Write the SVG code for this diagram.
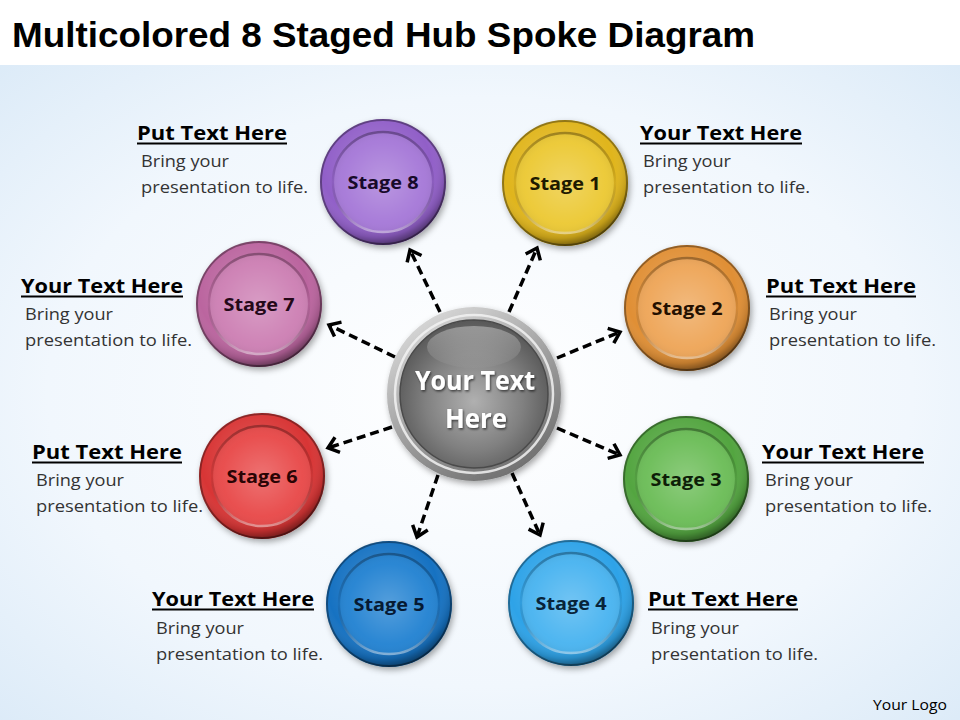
<svg xmlns="http://www.w3.org/2000/svg" width="960" height="720" viewBox="0 0 960 720">
<style>
.title{font-family:"Liberation Sans",Arial,sans-serif;font-weight:bold;font-size:35px;fill:#000}
.hd{font-family:"Open Sans","Liberation Sans",sans-serif;font-weight:bold;font-size:20px;fill:#000}
.ul{stroke:#000;stroke-width:2}
.bd{font-family:"Open Sans","Liberation Sans",sans-serif;font-size:17px;fill:#333}
.lbl{font-family:"Open Sans","Liberation Sans",sans-serif;font-weight:bold;font-size:18px;text-anchor:middle}
.hubt{font-family:"Open Sans","Liberation Sans",sans-serif;font-weight:bold;font-size:26px;fill:#fff;text-anchor:middle}
.logo{font-family:"Open Sans","Liberation Sans",sans-serif;font-size:14px;fill:#000}
.arrow{fill:none;stroke:#000;stroke-width:3.5;stroke-dasharray:9 5;marker-end:url(#ah)}
.osh{fill:url(#outerShade)}
.rim{fill:none;stroke:#000;stroke-opacity:0.35;stroke-width:2}
.groove{fill:none;stroke:url(#grooveG);stroke-width:2.5}
.ish{fill:url(#innerShade)}
</style>
<defs>
<radialGradient id="bg" cx="50%" cy="50%" r="75%">
<stop offset="0" stop-color="#ffffff"/>
<stop offset="0.6" stop-color="#f1f7fd"/>
<stop offset="1" stop-color="#d9e9f7"/>
</radialGradient>
<radialGradient id="outerShade" cx="45%" cy="38%" r="62%">
<stop offset="0" stop-color="#fff" stop-opacity="0.2"/>
<stop offset="0.7" stop-color="#fff" stop-opacity="0"/>
<stop offset="0.9" stop-color="#000" stop-opacity="0.15"/>
<stop offset="1" stop-color="#000" stop-opacity="0.45"/>
</radialGradient>
<radialGradient id="innerShade" cx="50%" cy="50%" r="55%">
<stop offset="0" stop-color="#fff" stop-opacity="0.22"/>
<stop offset="0.75" stop-color="#fff" stop-opacity="0.03"/>
<stop offset="1" stop-color="#000" stop-opacity="0.08"/>
</radialGradient>
<linearGradient id="grooveG" x1="0" y1="0" x2="0" y2="1">
<stop offset="0" stop-color="#000" stop-opacity="0.3"/>
<stop offset="0.5" stop-color="#000" stop-opacity="0.05"/>
<stop offset="1" stop-color="#fff" stop-opacity="0.45"/>
</linearGradient>
<linearGradient id="hubRim" x1="0.2" y1="0" x2="0.8" y2="1">
<stop offset="0" stop-color="#dcdcdc"/>
<stop offset="0.5" stop-color="#a0a0a0"/>
<stop offset="1" stop-color="#6a6a6a"/>
</linearGradient>
<radialGradient id="hubBody" cx="50%" cy="55%" r="55%">
<stop offset="0" stop-color="#b0b0b0"/>
<stop offset="0.6" stop-color="#808080"/>
<stop offset="1" stop-color="#585858"/>
</radialGradient>
<linearGradient id="gloss" x1="0" y1="0" x2="0" y2="1">
<stop offset="0" stop-color="#fff" stop-opacity="0.35"/>
<stop offset="1" stop-color="#fff" stop-opacity="0.02"/>
</linearGradient>
<filter id="sh" x="-20%" y="-20%" width="140%" height="140%">
<feDropShadow dx="2" dy="3" stdDeviation="3" flood-color="#000" flood-opacity="0.35"/>
</filter>
<filter id="tsh" x="-10%" y="-20%" width="120%" height="140%">
<feDropShadow dx="1" dy="1.5" stdDeviation="1" flood-color="#000" flood-opacity="0.6"/>
</filter>
<marker id="ah" markerUnits="userSpaceOnUse" markerWidth="30" markerHeight="30" viewBox="-15 -15 30 30" refX="0" refY="0" orient="auto">
<path d="M -10 -8 L 0 0 L -10 8" fill="none" stroke="#000" stroke-width="3.5" stroke-linejoin="miter"/>
</marker>
</defs>

<rect x="0" y="0" width="960" height="720" fill="#fff"/>
<rect x="0" y="65" width="960" height="655" fill="url(#bg)"/>
<text class="title" x="12" y="47" textLength="743" lengthAdjust="spacingAndGlyphs">Multicolored 8 Staged Hub Spoke Diagram</text>

<g id="connectors">
<line class="arrow" x1="440" y1="312" x2="410" y2="250"/>
<line class="arrow" x1="509" y1="312" x2="537" y2="248"/>
<line class="arrow" x1="395" y1="357" x2="329" y2="325"/>
<line class="arrow" x1="557" y1="358" x2="620" y2="332"/>
<line class="arrow" x1="392" y1="427" x2="328" y2="448"/>
<line class="arrow" x1="557" y1="428" x2="620" y2="455"/>
<line class="arrow" x1="438" y1="475" x2="417" y2="537"/>
<line class="arrow" x1="512" y1="473" x2="540" y2="535"/>
</g>

<g id="hub" transform="translate(474,394)">
<circle r="87" fill="url(#hubRim)" filter="url(#sh)"/>
<circle r="79" fill="none" stroke="#f2f2f2" stroke-width="2.5" stroke-opacity="0.85"/>
<circle r="74" fill="url(#hubBody)"/>
<circle r="74" fill="none" stroke="#4a4a4a" stroke-width="1.5"/>
<ellipse cx="0" cy="-47" rx="47" ry="21" fill="url(#gloss)"/>
<text class="hubt" x="1" y="-4" textLength="120" lengthAdjust="spacingAndGlyphs" filter="url(#tsh)">Your Text</text>
<text class="hubt" x="2" y="34" textLength="62" lengthAdjust="spacingAndGlyphs" filter="url(#tsh)">Here</text>
</g>

<g id="stage1">
<g transform="translate(565,183)">
<circle r="63" fill="#e0b51a" filter="url(#sh)"/>
<circle r="63" class="osh"/>
<circle r="62" class="rim"/>
<circle r="49" fill="#ecc935"/>
<circle r="49" class="ish"/>
<circle r="50" class="groove"/>
<text class="lbl" y="6.5" fill="#1e1a00" textLength="71" lengthAdjust="spacingAndGlyphs">Stage 1</text>
</g>
<text class="hd" x="640" y="140" textLength="162" lengthAdjust="spacingAndGlyphs">Your Text Here</text>
<line class="ul" x1="640" y1="143.5" x2="802" y2="143.5"/>
<text class="bd" x="643" y="167" textLength="88" lengthAdjust="spacingAndGlyphs">Bring your</text>
<text class="bd" x="643" y="193" textLength="167" lengthAdjust="spacingAndGlyphs">presentation to life.</text>
</g>

<g id="stage2">
<g transform="translate(687,308)">
<circle r="63" fill="#e08f35" filter="url(#sh)"/>
<circle r="63" class="osh"/>
<circle r="62" class="rim"/>
<circle r="49" fill="#eea659"/>
<circle r="49" class="ish"/>
<circle r="50" class="groove"/>
<text class="lbl" y="6.5" fill="#241000" textLength="71" lengthAdjust="spacingAndGlyphs">Stage 2</text>
</g>
<text class="hd" x="766" y="293" textLength="150" lengthAdjust="spacingAndGlyphs">Put Text Here</text>
<line class="ul" x1="766" y1="296.5" x2="916" y2="296.5"/>
<text class="bd" x="769" y="320" textLength="88" lengthAdjust="spacingAndGlyphs">Bring your</text>
<text class="bd" x="769" y="346" textLength="167" lengthAdjust="spacingAndGlyphs">presentation to life.</text>
</g>

<g id="stage3">
<g transform="translate(686,479)">
<circle r="63" fill="#53a540" filter="url(#sh)"/>
<circle r="63" class="osh"/>
<circle r="62" class="rim"/>
<circle r="49" fill="#6cbd58"/>
<circle r="49" class="ish"/>
<circle r="50" class="groove"/>
<text class="lbl" y="6.5" fill="#0e1e08" textLength="71" lengthAdjust="spacingAndGlyphs">Stage 3</text>
</g>
<text class="hd" x="762" y="459" textLength="162" lengthAdjust="spacingAndGlyphs">Your Text Here</text>
<line class="ul" x1="762" y1="462.5" x2="924" y2="462.5"/>
<text class="bd" x="765" y="486" textLength="88" lengthAdjust="spacingAndGlyphs">Bring your</text>
<text class="bd" x="765" y="512" textLength="167" lengthAdjust="spacingAndGlyphs">presentation to life.</text>
</g>

<g id="stage4">
<g transform="translate(571,603)">
<circle r="63" fill="#2fa3e8" filter="url(#sh)"/>
<circle r="63" class="osh"/>
<circle r="62" class="rim"/>
<circle r="49" fill="#4ab4f0"/>
<circle r="49" class="ish"/>
<circle r="50" class="groove"/>
<text class="lbl" y="6.5" fill="#08243a" textLength="71" lengthAdjust="spacingAndGlyphs">Stage 4</text>
</g>
<text class="hd" x="648" y="606" textLength="150" lengthAdjust="spacingAndGlyphs">Put Text Here</text>
<line class="ul" x1="648" y1="609.5" x2="798" y2="609.5"/>
<text class="bd" x="651" y="634" textLength="88" lengthAdjust="spacingAndGlyphs">Bring your</text>
<text class="bd" x="651" y="660" textLength="167" lengthAdjust="spacingAndGlyphs">presentation to life.</text>
</g>

<g id="stage5">
<g transform="translate(389,604)">
<circle r="63" fill="#1572c2" filter="url(#sh)"/>
<circle r="63" class="osh"/>
<circle r="62" class="rim"/>
<circle r="49" fill="#2483d2"/>
<circle r="49" class="ish"/>
<circle r="50" class="groove"/>
<text class="lbl" y="6.5" fill="#061a33" textLength="71" lengthAdjust="spacingAndGlyphs">Stage 5</text>
</g>
<text class="hd" x="152" y="606" textLength="162" lengthAdjust="spacingAndGlyphs">Your Text Here</text>
<line class="ul" x1="152" y1="609.5" x2="314" y2="609.5"/>
<text class="bd" x="156" y="634" textLength="88" lengthAdjust="spacingAndGlyphs">Bring your</text>
<text class="bd" x="156" y="660" textLength="167" lengthAdjust="spacingAndGlyphs">presentation to life.</text>
</g>

<g id="stage6">
<g transform="translate(262,476)">
<circle r="63" fill="#d83434" filter="url(#sh)"/>
<circle r="63" class="osh"/>
<circle r="62" class="rim"/>
<circle r="49" fill="#e84a4a"/>
<circle r="49" class="ish"/>
<circle r="50" class="groove"/>
<text class="lbl" y="6.5" fill="#2a0404" textLength="71" lengthAdjust="spacingAndGlyphs">Stage 6</text>
</g>
<text class="hd" x="32" y="459" textLength="150" lengthAdjust="spacingAndGlyphs">Put Text Here</text>
<line class="ul" x1="32" y1="462.5" x2="182" y2="462.5"/>
<text class="bd" x="36" y="486" textLength="88" lengthAdjust="spacingAndGlyphs">Bring your</text>
<text class="bd" x="36" y="512" textLength="167" lengthAdjust="spacingAndGlyphs">presentation to life.</text>
</g>

<g id="stage7">
<g transform="translate(259,304)">
<circle r="63" fill="#bb659f" filter="url(#sh)"/>
<circle r="63" class="osh"/>
<circle r="62" class="rim"/>
<circle r="49" fill="#cd80b4"/>
<circle r="49" class="ish"/>
<circle r="50" class="groove"/>
<text class="lbl" y="6.5" fill="#240818" textLength="71" lengthAdjust="spacingAndGlyphs">Stage 7</text>
</g>
<text class="hd" x="21" y="293" textLength="162" lengthAdjust="spacingAndGlyphs">Your Text Here</text>
<line class="ul" x1="21" y1="296.5" x2="183" y2="296.5"/>
<text class="bd" x="25" y="320" textLength="88" lengthAdjust="spacingAndGlyphs">Bring your</text>
<text class="bd" x="25" y="346" textLength="167" lengthAdjust="spacingAndGlyphs">presentation to life.</text>
</g>

<g id="stage8">
<g transform="translate(383,182)">
<circle r="63" fill="#915ec8" filter="url(#sh)"/>
<circle r="63" class="osh"/>
<circle r="62" class="rim"/>
<circle r="49" fill="#a679d8"/>
<circle r="49" class="ish"/>
<circle r="50" class="groove"/>
<text class="lbl" y="6.5" fill="#180a2a" textLength="71" lengthAdjust="spacingAndGlyphs">Stage 8</text>
</g>
<text class="hd" x="137" y="140" textLength="150" lengthAdjust="spacingAndGlyphs">Put Text Here</text>
<line class="ul" x1="137" y1="143.5" x2="287" y2="143.5"/>
<text class="bd" x="141" y="167" textLength="88" lengthAdjust="spacingAndGlyphs">Bring your</text>
<text class="bd" x="141" y="193" textLength="167" lengthAdjust="spacingAndGlyphs">presentation to life.</text>
</g>

<text class="logo" x="873" y="710" textLength="74" lengthAdjust="spacingAndGlyphs">Your Logo</text>
</svg>
